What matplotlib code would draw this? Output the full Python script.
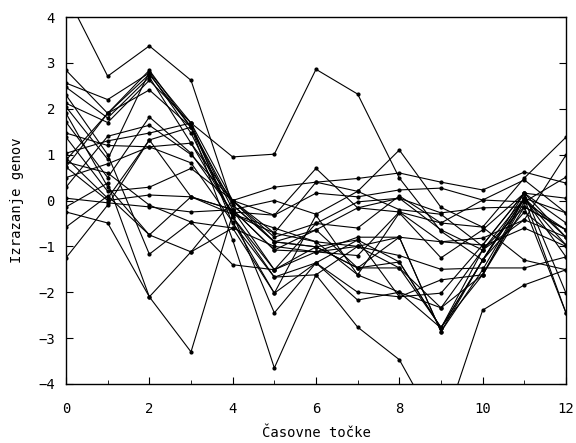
import numpy as np
import matplotlib.pyplot as plt

# time points
t = np.arange(13)

# gene expression profiles
s1 = [4.5, 2.71, 3.37, 2.62, -0.1, -0.9, -1.01, -0.86, -1.34, -2.78, -1.08, 0.05, -0.8]
s2 = [1.03, 1.3, 1.47, 1.69, 0.95, 1.01, 2.86, 2.32, 0.49, -0.67, -1.3, 0.16, -0.49]
s3 = [2.84, 1.9, 2.84, 1.6, -0.2, -1.08, -1.12, -0.8, -0.8, -2.86, -1.51, 0.05, -0.27]
s4 = [2.56, 2.2, 2.78, 1.47, -0.36, -1.51, -1.01, -1.47, -1.47, -2.76, -1.62, -0.03, -0.64]
s5 = [2.47, 1.8, 2.69, 1.25, -0.3, -0.71, -0.9, -1.62, -2.0, -2.34, -1.08, -0.14, -2.45]
s6 = [2.12, 1.7, 2.62, 1.69, -0.5, -1.67, -1.36, -0.86, -2.1, -2.02, -0.97, 0.16, -2.02]
s7 = [2.04, 0.9, 2.8, 1.69, 0.0, -0.9, -0.64, -1.47, -1.34, -2.78, -1.3, -0.25, -0.97]
s8 = [1.71, 0.5, 1.82, 1.03, -0.25, -0.32, 0.7, -0.16, -0.25, -0.49, 0.01, 0.45, -0.27]
s9 = [1.47, 1.2, 1.17, 0.82, -0.47, -2.02, -0.32, -1.62, -0.27, -1.25, -0.64, 0.16, 0.05]
s10 = [1.38, 0.2, 0.29, 0.7, 0.0, 0.29, 0.4, 0.48, 0.6, 0.4, 0.23, 0.62, 0.38]
s11 = [0.93, 0.05, 1.32, 0.08, -0.3, -2.45, -1.36, -2.0, -2.1, -1.73, -1.62, 0.05, -1.23]
s12 = [0.88, 1.9, 2.41, 1.6, -0.1, -0.9, -1.01, -1.47, -0.8, -2.86, -1.3, 0.05, -0.97]
s13 = [0.84, 0.6, -0.1, -0.47, -0.6, -1.0, -1.12, -1.2, -0.25, -0.9, -0.82, -0.42, -0.8]
s14 = [0.73, 0.0, 0.12, 0.08, -0.2, -1.08, -0.64, -0.16, 0.05, -0.27, -0.16, -0.14, -0.64]
s15 = [0.29, 1.4, 1.64, 1.0, 0.0, -0.32, 0.16, 0.08, 0.23, 0.27, 0.01, -0.03, 0.51]
s16 = [0.05, -0.05, -0.14, -0.25, -0.2, 0.0, -0.3, 0.2, -0.2, -0.3, -1.0, -0.6, -1.0]
s17 = [-0.14, 0.38, -2.1, -1.12, 0.0, -0.8, -0.5, -0.6, 0.1, -0.49, -0.58, -1.3, -1.51]
s18 = [-0.25, -0.49, -2.1, -3.3, -0.3, -0.6, -0.9, -1.0, -1.2, -1.5, -1.47, -1.47, -1.23]
s19 = [-0.58, 0.1, -0.75, 0.08, -0.2, -1.51, -1.12, -1.0, -0.8, -0.9, -0.97, 0.16, -0.8]
s20 = [-1.25, -0.1, 1.32, 1.6, -0.36, -1.67, -1.62, -1.0, -1.47, -2.34, -1.62, -0.14, -0.64]
s21 = [0.73, 1.9, 2.75, 1.6, -0.86, -3.65, -1.62, -2.76, -3.47, -5.1, -2.39, -1.84, -1.51]
s22 = [2.3, 1.0, -1.17, -0.47, -1.4, -1.51, -0.5, -0.03, 0.05, -0.64, -1.08, -0.42, 0.99]
s23 = [1.9, 0.3, -0.75, -1.12, -0.6, -2.02, -1.36, -2.17, -2.0, -2.78, -1.3, 0.05, -2.45]
s24 = [0.5, 0.8, 1.17, 1.25, 0.0, -0.71, 0.4, 0.2, 1.1, -0.15, -0.58, 0.49, 1.38]

series = [s1, s2, s3, s4, s5, s6, s7, s8, s9, s10, s11, s12,
          s13, s14, s15, s16, s17, s18, s19, s20, s21, s22, s23, s24]

plt.rcParams['font.family'] = 'DejaVu Sans Mono'

fig = plt.figure(figsize=(5.76, 4.43), dpi=100)
ax = fig.add_axes([0.1146, 0.1332, 0.8680, 0.8284])

for s in series:
    ax.plot(t, s, color='black', linewidth=0.8, marker='o', markersize=2)

ax.set_xlim(0, 12)
ax.set_ylim(-4, 4)
ax.set_xticks(range(0, 13, 2))
ax.set_xticks(range(1, 13, 2), minor=True)
ax.set_yticks(range(-4, 5))
ax.tick_params(direction='in', right=True, labelsize=10, length=5)
ax.tick_params(axis='x', pad=13)
ax.tick_params(axis='y', pad=8)
ax.tick_params(which='minor', direction='in', length=3)
for sp in ax.spines.values():
    sp.set_linewidth(1.0)

ax.set_xlabel('Časovne točke', fontsize=10, labelpad=7)
ax.set_ylabel('Izrazanje genov', fontsize=10, labelpad=10)

fig.savefig('out.png', dpi=100)
